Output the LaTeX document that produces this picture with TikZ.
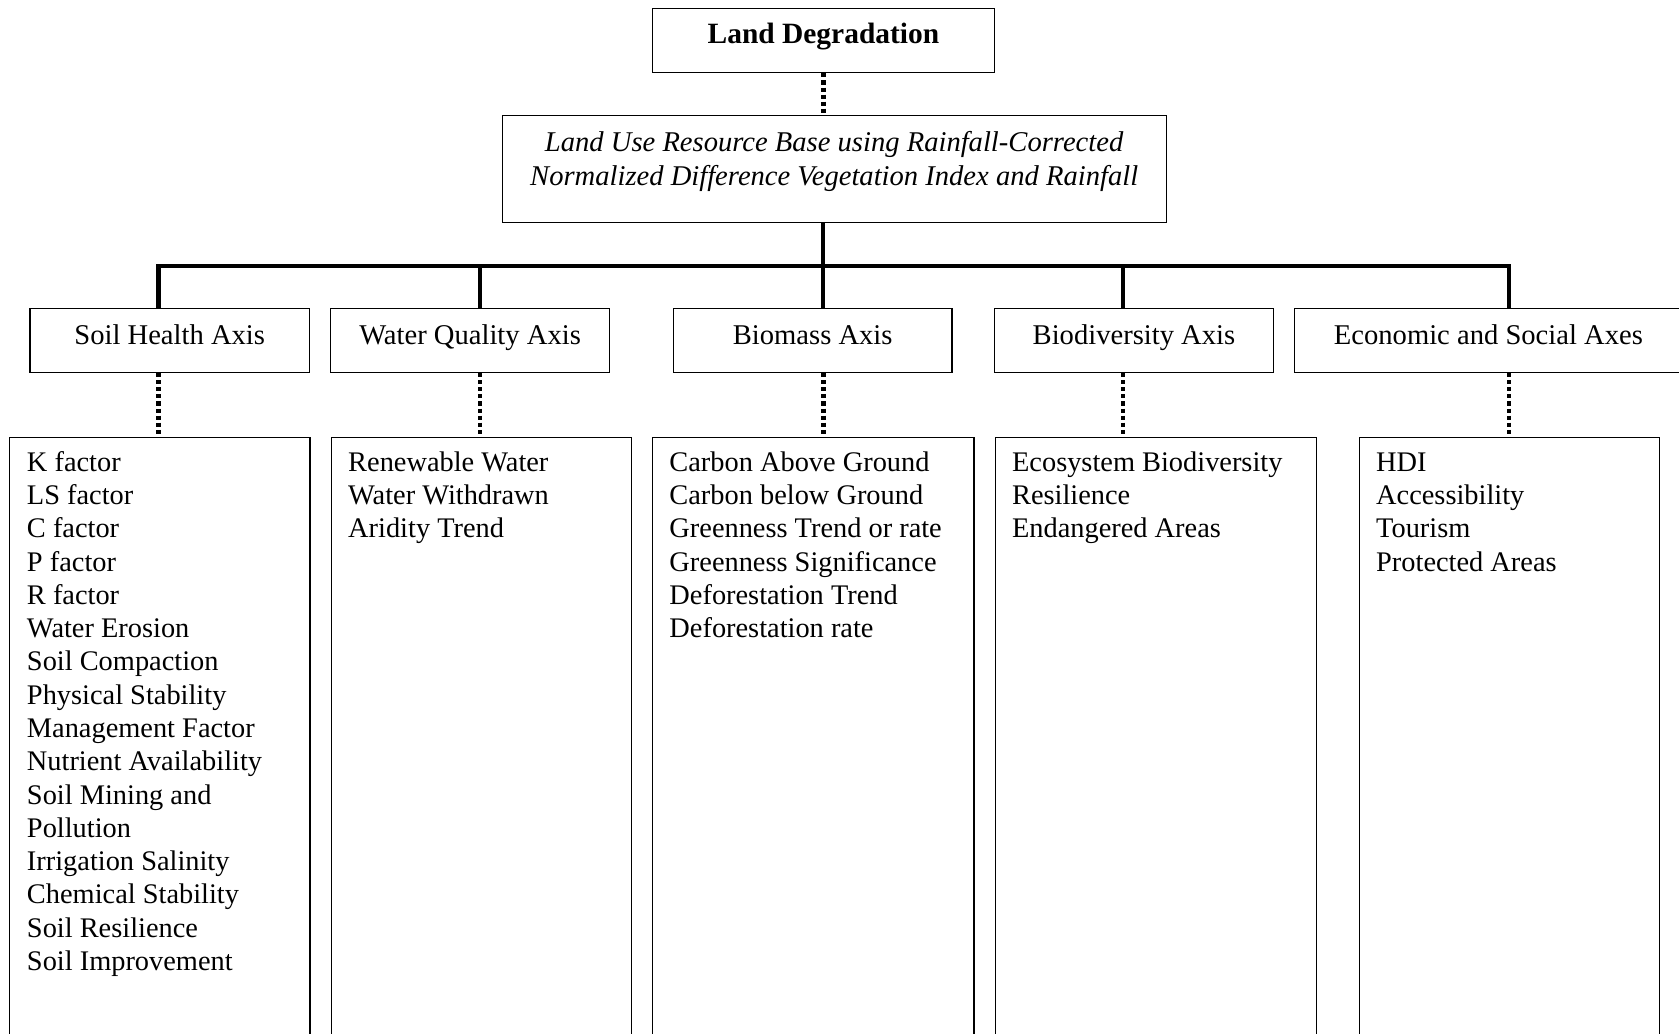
\documentclass[tikz,border=0pt]{standalone}
\usepackage{fontspec}
\setmainfont{Liberation Serif}
\begin{document}
\begin{tikzpicture}[x=1pt,y=-1pt,
  box/.style={draw, line width=1.1pt, inner sep=0pt},
  topbox/.style={box, minimum width=320pt, minimum height=60pt, text height=18pt, text depth=12pt,
     font=\fontsize{27.5}{32}\selectfont\bfseries},
  axisbox/.style={box, minimum height=60pt, text height=18pt, text depth=10.8pt,
     font=\fontsize{26.7}{32}\selectfont},
  listbox/.style={box, anchor=north west, minimum height=620pt},
  listtxt/.style={anchor=north west, inner sep=0pt, align=left,
     font=\fontsize{26.5}{31.07}\selectfont},
  italtxt/.style={anchor=north, inner sep=0pt, align=center,
     font=\fontsize{26.7}{31}\selectfont\itshape},
  busline/.style={line width=3.8pt},
  dotline/.style={line width=4pt, dash pattern=on 3.8pt off 2.8pt}
]
\useasboundingbox (0,0) rectangle (1568,965.6);
\clip (0,0) rectangle (1568,965.6);

% top
\node[topbox] (ld) at (769,38) {Land Degradation};
\node[box, minimum width=620pt, minimum height=100pt] (rb) at (779,158) {};
\node[italtxt] (rbt) at (779,121.6) {\rule{0pt}{20pt}Land Use Resource Base using Rainfall-Corrected\\Normalized Difference Vegetation Index and Rainfall};

% axes
\node[axisbox, minimum width=261pt] (soil) at (158.5,318) {Soil Health Axis};
\node[axisbox, minimum width=260pt] (water) at (439,318) {Water Quality Axis};
\node[axisbox, minimum width=260pt] (bio) at (759,318) {Biomass Axis};
\node[axisbox, minimum width=260pt] (biod) at (1059,318) {Biodiversity Axis};
\node[axisbox, minimum width=362pt] (econ) at (1390,318) {Economic and Social Axes};

% list boxes
\node[listbox, minimum width=281pt] (soilL) at (8,408) {};
\node[listbox, minimum width=280pt] (waterL) at (309,408) {};
\node[listbox, minimum width=300pt] (bioL) at (609,408) {};
\node[listbox, minimum width=300pt] (biodL) at (929,408) {};
\node[listbox, minimum width=280pt] (econL) at (1269,408) {};

\node[listtxt] (soilT) at (25,420) {\rule{0pt}{20pt}K factor\\LS factor\\C factor\\P factor\\R factor\\Water Erosion\\Soil Compaction\\Physical Stability\\Management Factor\\Nutrient Availability\\Soil Mining and\\Pollution\\Irrigation Salinity\\Chemical Stability\\Soil Resilience\\Soil Improvement};
\node[listtxt] (waterT) at (325,420) {\rule{0pt}{20pt}Renewable Water\\Water Withdrawn\\Aridity Trend};
\node[listtxt] (bioT) at (625,420) {\rule{0pt}{20pt}Carbon Above Ground\\Carbon below Ground\\Greenness Trend or rate\\Greenness Significance\\Deforestation Trend\\Deforestation rate};
\node[listtxt] (biodT) at (945,420) {\rule{0pt}{20pt}Ecosystem Biodiversity\\Resilience\\Endangered Areas};
\node[listtxt] (econT) at (1285,420) {\rule{0pt}{20pt}HDI\\Accessibility\\Tourism\\Protected Areas};

% junctions
\coordinate (j1) at (148,248);
\coordinate (j2) at (448,248);
\coordinate (j3) at (769,248);
\coordinate (j4) at (1049,248);
\coordinate (j5) at (1409,248);

% connectors
\draw[dotline] (ld.south) -- (ld.south |- rb.north);
\draw[busline] (ld.south |- rb.south) -- (j3);
\draw[busline] (j1 |- soil.north) -- (j1) -- (j5) -- (j5 |- econ.north);
\draw[busline] (j2) -- (j2 |- water.north);
\draw[busline] (j3) -- (j3 |- bio.north);
\draw[busline] (j4) -- (j4 |- biod.north);

\draw[dotline] (j1 |- soil.south) -- (j1 |- soilL.north);
\draw[dotline] (j2 |- water.south) -- (j2 |- waterL.north);
\draw[dotline] (j3 |- bio.south) -- (j3 |- bioL.north);
\draw[dotline] (j4 |- biod.south) -- (j4 |- biodL.north);
\draw[dotline] (j5 |- econ.south) -- (j5 |- econL.north);
\end{tikzpicture}
\end{document}
